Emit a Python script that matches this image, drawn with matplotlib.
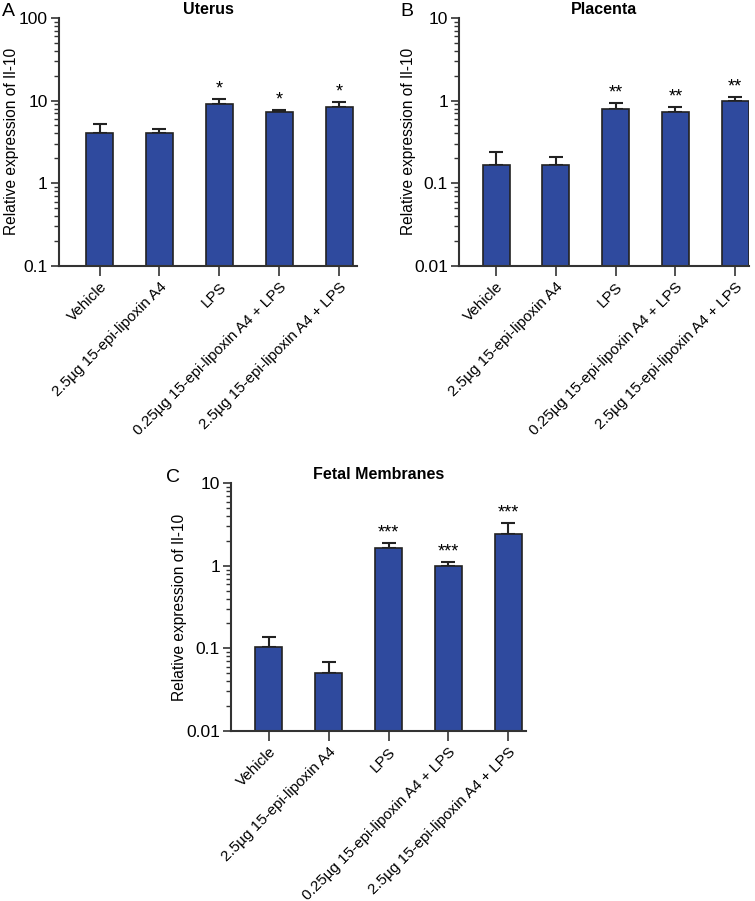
import numpy as np
import matplotlib.pyplot as plt
from matplotlib.ticker import LogLocator, NullFormatter

plt.rcParams['font.family'] = ['Liberation Sans', 'DejaVu Sans']

# Grupos (eje x)
groups = ["Vehicle", "2.5µg 15-epi-lipoxin A4", "LPS",
          "0.25µg 15-epi-lipoxin A4 + LPS", "2.5µg 15-epi-lipoxin A4 + LPS"]

# Medias y barra de error superior (valor + SEM)
uterus_mean = [4.03, 4.0, 9.1, 7.3, 8.4]
uterus_top = [5.2, 4.5, 10.5, 7.7, 9.6]
uterus_sig = ["", "", "*", "*", "*"]

placenta_mean = [0.168, 0.164, 0.79, 0.73, 1.0]
placenta_top = [0.239, 0.206, 0.935, 0.84, 1.11]
placenta_sig = ["", "", "**", "**", "**"]

fetal_mean = [0.103, 0.0497, 1.66, 0.997, 2.46]
fetal_top = [0.138, 0.0676, 1.88, 1.12, 3.29]
fetal_sig = ["", "", "***", "***", "***"]

bar_color = "#2f4a9e"
edge_color = "#222222"

W, H = 755, 901
fig = plt.figure(figsize=(W / 100, H / 100), dpi=100)


def panel(rect, mean, top, sig, title, letter, letter_xy, ylab_px, ylim, xlim):
    ax = fig.add_axes(rect)
    x = np.arange(len(groups))
    mean = np.array(mean)
    top = np.array(top)
    ax.bar(x, mean, width=0.45, color=bar_color, edgecolor=edge_color,
           linewidth=1.2, zorder=2)
    yerr = np.vstack([np.zeros_like(mean), top - mean])
    ax.errorbar(x, mean, yerr=yerr, fmt="none", ecolor=edge_color,
                elinewidth=1.5, capsize=5, capthick=1.5, zorder=1)
    for xi, t, s in zip(x, top, sig):
        if s:
            ax.annotate(s, (xi, t), xytext=(0, 1), textcoords="offset points",
                        ha="center", va="bottom", fontsize=13)
    ax.set_yscale("log")
    ax.set_ylim(*ylim)
    ax.set_xlim(*xlim)
    ax.yaxis.set_major_locator(LogLocator(base=10, numticks=10))
    ax.yaxis.set_minor_locator(LogLocator(base=10, subs=np.arange(2, 10), numticks=10))
    ax.yaxis.set_minor_formatter(NullFormatter())
    ax.yaxis.set_major_formatter(plt.FuncFormatter(lambda v, p: f"{v:g}"))
    ax.set_xticks(x)
    ax.set_xticklabels(groups, rotation=45, ha="right", rotation_mode="anchor",
                       fontsize=11)
    ax.tick_params(axis="y", which="major", length=6, width=1.2, labelsize=12.5,
                   color="#333333", pad=2)
    ax.tick_params(axis="y", which="minor", length=3.5, width=1.0, color="#333333")
    ax.tick_params(axis="x", length=7, width=1.2, pad=3, color="#333333")
    for side in ["top", "right"]:
        ax.spines[side].set_visible(False)
    for side in ["left", "bottom"]:
        ax.spines[side].set_linewidth(1.5)
        ax.spines[side].set_color("#333333")
    ax.set_ylabel("Relative expression of Il-10", fontsize=11.2, va="center")
    ax_w_px = rect[2] * W
    ax.yaxis.set_label_coords(-ylab_px / ax_w_px, 0.5)
    ax.set_title(title, fontsize=11.5, fontweight="bold", pad=3)
    fig.text(letter_xy[0] / W, 1 - letter_xy[1] / H, letter, fontsize=14,
             va="center", ha="left")
    return ax


panel([0.078, 0.705, 0.395, 0.275], uterus_mean, uterus_top, uterus_sig,
      "Uterus", "A", (2, 11), 47, (0.1, 100), (-0.68, 4.3))
panel([0.608, 0.705, 0.384, 0.275], placenta_mean, placenta_top, placenta_sig,
      "Placenta", "B", (400, 11), 51, (0.01, 10), (-0.62, 4.23))
panel([0.306, 0.189, 0.391, 0.2746], fetal_mean, fetal_top, fetal_sig,
      "Fetal Membranes", "C", (166, 478), 52, (0.01, 10), (-0.63, 4.3))

fig.savefig("out.png", dpi=100)
